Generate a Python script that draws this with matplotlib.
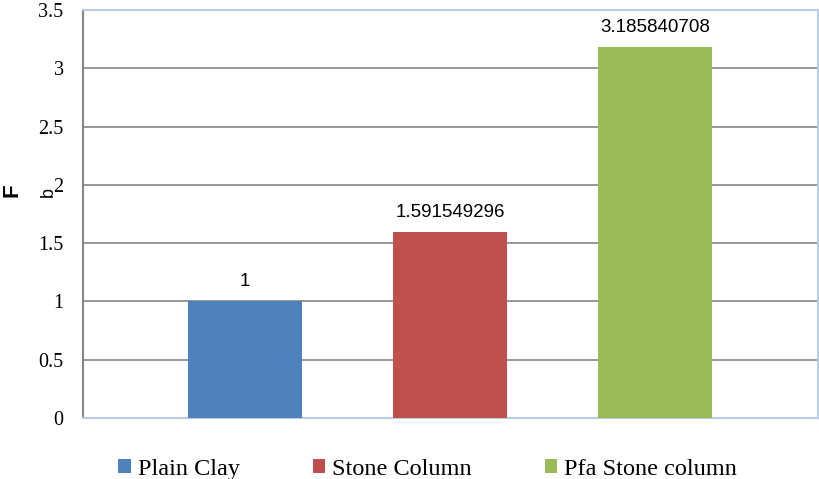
import matplotlib.pyplot as plt

# Bearing improvement factor per case
categories = ['Plain Clay', 'Stone Column', 'Pfa Stone column']
values = [1, 1.591549296, 3.185840708]
colors = ['#4F81BD', '#C0504D', '#9BBB59']
yticks = [0, 0.5, 1, 1.5, 2, 2.5, 3, 3.5]

fig = plt.figure(figsize=(8.19, 4.79), dpi=100)
ax = fig.add_axes([0.1013, 0.1273, 0.8975, 0.852])

pos = list(range(len(categories)))
bars = ax.bar(pos, values, width=0.56, color=colors, label=categories, zorder=3)

for x, v in zip(pos, values):
    ax.annotate(f'{v:.10g}', (x, v), xytext=(0, 11), textcoords='offset pixels',
                ha='center', va='bottom', fontsize=13.5, family='Liberation Sans')

ax.set_xlim(-0.79, 2.795)
ax.set_ylim(0, 3.5)
ax.set_yticks(yticks)
ax.set_yticklabels([f'{t:g}' for t in yticks], family='Liberation Serif', fontsize=14.5)
ax.set_xticks([])
ax.tick_params(axis='y', length=0, pad=14)
ax.yaxis.grid(True, color='#868686', linewidth=1.2, zorder=0)

for s in ['top', 'right', 'bottom']:
    ax.spines[s].set_color('#B9CDE5')
    ax.spines[s].set_linewidth(1.5)
ax.spines['left'].set_color('#868686')
ax.spines['left'].set_linewidth(1.5)

# y-axis label: F with subscript b, drawn rotated
fig.text(12 / 819, 1 - 190 / 479, 'F', rotation=90, ha='center', va='center',
         fontsize=16, fontweight='bold', family='Liberation Sans')
fig.text(48 / 819, 1 - 192 / 479, 'b', rotation=90, ha='center', va='center',
         fontsize=13, family='Liberation Sans')

ax.legend(handles=bars, labels=categories, loc='center',
          bbox_to_anchor=(0.469, -0.125), ncol=3, frameon=False,
          prop={'family': 'Liberation Serif', 'size': 17.5},
          handlelength=0.5, handleheight=0.5, handletextpad=0.3, columnspacing=3.0)

fig.savefig('out.png', dpi=100)
